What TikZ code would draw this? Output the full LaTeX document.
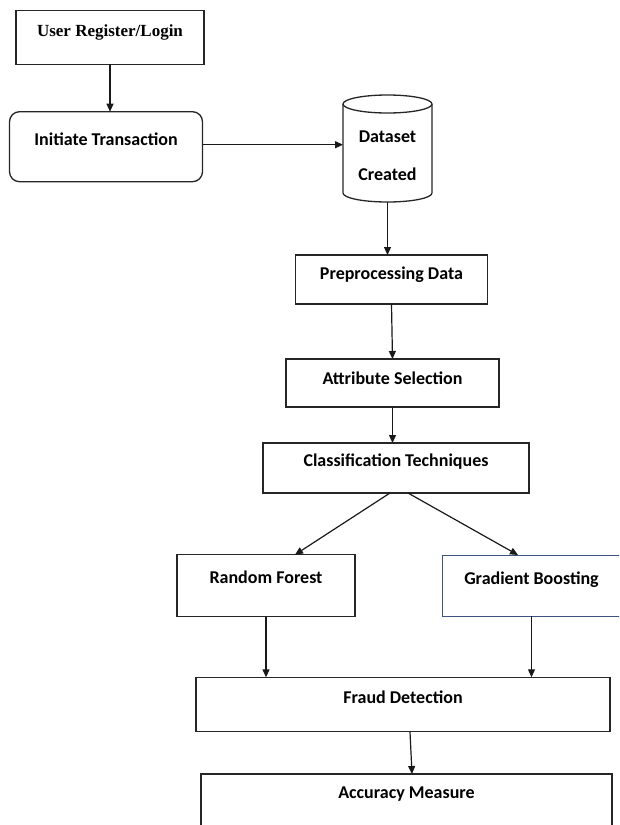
\documentclass[tikz,border=0pt]{standalone}
\usepackage{fontspec}
\setmainfont{Carlito}
\newfontfamily\timesfont{Liberation Serif}
\usetikzlibrary{arrows.meta}

\definecolor{boostblue}{RGB}{62,84,128}

\begin{document}
\begin{tikzpicture}[x=1pt, y=-1pt,
        blk/.style={draw=black!85, line width=1.3pt, rectangle, fill=white, inner sep=0pt, outer sep=0pt,
            anchor=north west, font=\fontsize{18}{22}\selectfont\bfseries},
        arr/.style={-{Triangle[length=8pt,width=7pt]}, line width=1.2pt, black!90}]
        \useasboundingbox (0,0) rectangle (619,825);
        \clip (0,0) rectangle (619,825);

        % Login and transaction nodes
        \node[blk, minimum width=188pt, text height=25.8pt, text depth=27.8pt,
            font=\fontsize{17}{20}\selectfont\timesfont\bfseries] (login) at (16,10.7) {User Register/Login};
        \node[blk, rounded corners=10pt, minimum width=193pt, text height=34pt, text depth=36pt] (initiate) at (9.5,111.7) {Initiate Transaction};

        % Dataset node with tabular for line break
        \node[blk, draw=none, fill=none, minimum width=89pt, text height=47.3pt, text depth=59.7pt] (dataset) at (343,95) {
            \begin{tabular}[t]{c}
                Dataset \\[16pt]
                Created
            \end{tabular}
        };
        \draw[line width=1.3pt, black!85] ([yshift=-9pt]dataset.north) ellipse [x radius=44.5pt, y radius=9pt];
        \draw[line width=1.3pt, black!85] ([yshift=-9pt]dataset.north west) -- ([yshift=9pt]dataset.south west)
            arc[start angle=180, end angle=360, x radius=44.5pt, y radius=9pt] -- ([yshift=-9pt]dataset.north east);

        % Processing nodes
        \node[blk, minimum width=191.6pt, text height=24pt, text depth=25pt] (preprocess) at (295.7,255) {Preprocessing Data};
        \node[blk, minimum width=213pt, text height=25.3pt, text depth=22.7pt] (attribute) at (286,359) {Attribute Selection};
        \node[blk, minimum width=266pt, text height=23.7pt, text depth=26.3pt] (classify) at (263,443) {Classification Techniques};

        % Model nodes
        \node[blk, minimum width=178pt, text height=28.6pt, text depth=33.4pt] (forest) at (177,554.7) {Random Forest};
        \node[blk, draw=boostblue, line width=1pt, minimum width=179pt, text height=29pt, text depth=32pt] (boost) at (442,555) {Gradient Boosting};

        % Result nodes
        \node[blk, minimum width=414pt, text height=26pt, text depth=28.4pt] (fraud) at (196,677.3) {Fraud Detection};
        \node[blk, minimum width=411pt, text height=24pt, text depth=47pt] (accuracy) at (201,774) {Accuracy Measure};

        % Arrows
        \draw[arr] (login.south) -- (login.south |- initiate.north);
        \draw[arr] ([yshift=2pt]initiate.east) -- ([yshift=2pt]initiate.east -| dataset.west);
        \draw[arr] (dataset.south) -- (dataset.south |- preprocess.north);
        \draw[arr] (preprocess.south) -- (attribute.north);
        \draw[arr] (attribute.south) -- (attribute.south |- classify.north);
        \draw[arr] ([xshift=-6pt]classify.south) -- ([xshift=29pt]forest.north);
        \draw[arr] ([xshift=12pt]classify.south) -- ([xshift=-13.5pt]boost.north);
        \draw[arr] (forest.south) -- (forest.south |- fraud.north);
        \draw[arr] (boost.south) -- (boost.south |- fraud.north);
        \draw[arr] ([xshift=7pt]fraud.south) -- ([xshift=5.5pt]accuracy.north);
    \end{tikzpicture}
\end{document}
